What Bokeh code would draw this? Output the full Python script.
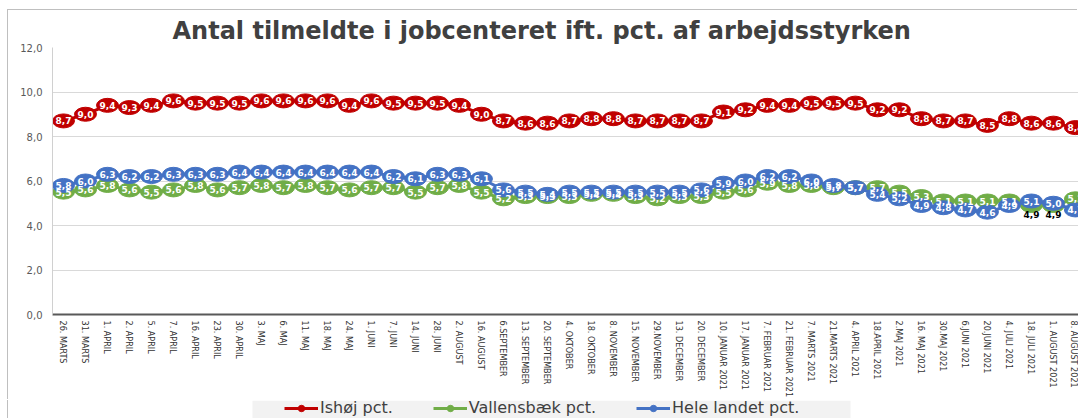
from bokeh.plotting import figure
from bokeh.layouts import column, row
from bokeh.models import (ColumnDataSource, Range1d, FixedTicker, Legend,
                          LegendItem, InlineStyleSheet, BoxAnnotation, Spacer)
from bokeh.core.properties import value
from bokeh.embed import file_html
from bokeh.resources import INLINE

title_text = "Antal tilmeldte i jobcenteret ift. pct. af arbejdsstyrken"

dates = ["26. MARTS", "31. MARTS", "1. APRIL", "2. APRIL", "5. APRIL", "7. APRIL",
         "16. APRIL", "23. APRIL", "30. APRIL", "3. MAJ", "6. MAJ", "11. MAJ",
         "18. MAJ", "24. MAJ", "1. JUNI", "7. JUNI", "14. JUNI", "28. JUNI",
         "2. AUGUST", "16. AUGUST", "6.SEPTEMBER", "13. SEPTEMBER", "20. SEPTEMBER",
         "4. OKTOBER", "18. OKTOBER", "8. NOVEMBER", "15. NOVEMBER", "29.NOVEMBER",
         "13. DECEMBER", "20. DECEMBER", "10. JANUAR 2021", "17. JANUAR 2021",
         "7. FEBRUAR 2021", "21. FEBRUAR 2021", "7. MARTS 2021", "21.MARTS 2021",
         "4. APRIL 2021", "18.APRIL 2021", "2.MAJ 2021", "16. MAJ 2021",
         "30.MAJ 2021", "6.JUNI 2021", "20.JUNI 2021", "4. JULI 2021",
         "18. JULI 2021", "1. AUGUST 2021", "8. AUGUST 2021"]

ishoj = [8.7, 9.0, 9.4, 9.3, 9.4, 9.6, 9.5, 9.5, 9.5, 9.6,
         9.6, 9.6, 9.6, 9.4, 9.6, 9.5, 9.5, 9.5, 9.4, 9.0,
         8.7, 8.6, 8.6, 8.7, 8.8, 8.8, 8.7, 8.7, 8.7, 8.7,
         9.1, 9.2, 9.4, 9.4, 9.5, 9.5, 9.5, 9.2, 9.2, 8.8,
         8.7, 8.7, 8.5, 8.8, 8.6, 8.6, 8.4]
vallensbaek = [5.5, 5.6, 5.8, 5.6, 5.5, 5.6, 5.8, 5.6, 5.7, 5.8,
               5.7, 5.8, 5.7, 5.6, 5.7, 5.7, 5.5, 5.7, 5.8, 5.5,
               5.2, 5.3, 5.3, 5.3, 5.4, 5.4, 5.3, 5.2, 5.3, 5.3,
               5.5, 5.6, 5.9, 5.8, 5.8, 5.7, 5.7, 5.7, 5.5, 5.3,
               5.1, 5.1, 5.1, 5.1, 4.9, 4.9, 5.2]
hele_landet = [5.8, 6.0, 6.3, 6.2, 6.2, 6.3, 6.3, 6.3, 6.4, 6.4,
               6.4, 6.4, 6.4, 6.4, 6.4, 6.2, 6.1, 6.3, 6.3, 6.1,
               5.6, 5.5, 5.4, 5.5, 5.5, 5.5, 5.5, 5.5, 5.5, 5.6,
               5.9, 6.0, 6.2, 6.2, 6.0, 5.8, 5.7, 5.4, 5.2, 4.9,
               4.8, 4.7, 4.6, 4.9, 5.1, 5.0, 4.7]

series_names = ["Ishøj pct.", "Vallensbæk pct.", "Hele landet pct."]
series_colors = ["#C00000", "#70AD47", "#4472C4"]

y_ticks = [0, 2, 4, 6, 8, 10, 12]
y_tick_labels = ["0,0", "2,0", "4,0", "6,0", "8,0", "10,0", "12,0"]

x = list(range(1, len(dates) + 1))

p = figure(width=1070, height=390, output_backend="svg", toolbar_location=None,
           x_range=Range1d(0.5, 47.14), y_range=Range1d(0, 12),
           min_border_left=44, min_border_right=0, min_border_top=37,
           min_border_bottom=84)
p.outline_line_color = None
p.background_fill_color = "white"
p.border_fill_color = "white"
p.stylesheets = [InlineStyleSheet(css=":host { box-shadow: -1px -1px 0 0 #BFBFBF; }")]

# title
p.title.text = title_text
p.title.align = "left"
p.title.offset = 120
p.title.standoff = 4
p.title.vertical_align = "middle"
p.title.text_font = "DejaVu Sans"
p.title.text_font_size = "24px"
p.title.text_font_style = "bold"
p.title.text_color = "#404040"

# axes
p.xaxis.ticker = FixedTicker(ticks=x)
p.xaxis.major_label_overrides = {i: d for i, d in zip(x, dates)}
p.xaxis.major_label_orientation = "vertical"
p.xaxis.major_label_text_font = "Liberation Sans Narrow, DejaVu Sans Condensed, sans-serif"
p.xaxis.major_label_text_font_size = "9px"
p.xaxis.major_label_text_color = "#333333"
p.xaxis.major_tick_out = 0
p.xaxis.major_tick_in = 0
p.xaxis.minor_tick_out = 0
p.xaxis.minor_tick_in = 0
p.xaxis.major_label_standoff = 6
p.xaxis.axis_line_color = "#595959"
p.xaxis.axis_line_width = 2

p.yaxis.ticker = FixedTicker(ticks=y_ticks)
p.yaxis.major_label_overrides = {t: l for t, l in zip(y_ticks, y_tick_labels)}
p.yaxis.major_label_text_font = "DejaVu Sans"
p.yaxis.major_label_text_font_size = "10px"
p.yaxis.major_label_text_color = "#595959"
p.yaxis.major_tick_out = 0
p.yaxis.major_tick_in = 0
p.yaxis.minor_tick_out = 0
p.yaxis.minor_tick_in = 0
p.yaxis.major_label_standoff = 10
p.yaxis.axis_line_color = "#D0D0D0"

p.xgrid.grid_line_color = None
p.ygrid.grid_line_color = "#D9D9D9"
p.ygrid.grid_line_width = 1

def fmt(v):
    return f"{v:.1f}".replace(".", ",")

all_series = [ishoj, vallensbaek, hele_landet]
sources = []
for name, color, vals in zip(series_names, series_colors, all_series):
    src = ColumnDataSource(dict(x=x, y=vals, label=[fmt(v) for v in vals]))
    sources.append(src)
    p.line("x", "y", source=src, line_color=color, line_width=3)
    p.ellipse("x", "y", source=src, width=22, height=14, width_units="screen",
              height_units="screen", fill_color=color, line_color=color)

# data labels drawn on top of all markers
below_labels = {1: {44, 45}}  # Vallensbæk labels placed below where hidden
for si, src in enumerate(sources):
    n = len(src.data["x"])
    colors = []
    offs = []
    for i in range(n):
        if i in below_labels.get(si, set()):
            colors.append("#000000")
            offs.append(9)
        else:
            colors.append("#FFFFFF")
            offs.append(0)
    src.data["tcolor"] = colors
    src.data["yoff"] = offs
    p.text("x", "y", text="label", source=src, text_color="tcolor",
           y_offset="yoff", text_align="center", text_baseline="middle",
           text_font=value("DejaVu Sans"), text_font_style="bold",
           text_font_size="9px")

# legend strip below the chart (its frame is aligned with the chart frame)
lg = figure(width=1070, height=18, output_backend="svg", toolbar_location=None,
            x_range=Range1d(0, 1026), y_range=Range1d(0, 18),
            x_axis_type=None, y_axis_type=None, min_border=0)
lg.outline_line_color = None
lg.xgrid.grid_line_color = None
lg.ygrid.grid_line_color = None
lg.background_fill_color = "white"
lg.border_fill_color = "white"
lg.stylesheets = [InlineStyleSheet(css=":host { box-shadow: -1px 0 0 0 #BFBFBF; }")]
lg.add_layout(BoxAnnotation(left=200, right=798, bottom=-10, top=18,
                            fill_color="#F2F2F2", fill_alpha=1.0, line_alpha=0))
items = []
for name, color in zip(series_names, series_colors):
    proxy = ColumnDataSource(dict(x=[-100, -90], y=[-100, -100]))
    lr = lg.line("x", "y", source=proxy, line_color=color, line_width=3)
    dot = lg.scatter("x", "y", source=proxy, marker="circle", size=9,
                     fill_color=color, line_color=color)
    items.append(LegendItem(label=name, renderers=[lr, dot]))
legend = Legend(items=items, location=(229, -2), orientation="horizontal",
                label_text_font="DejaVu Sans", label_text_font_size="16px",
                label_text_color="#404040", glyph_width=34, glyph_height=16,
                label_height=16, label_standoff=2, spacing=40, padding=3, margin=0,
                background_fill_alpha=0, border_line_alpha=0)
lg.add_layout(legend, "center")

layout = row(Spacer(width=8, height=418),
             column(Spacer(width=1070, height=10), p, lg, spacing=0),
             spacing=0)
open("out.html", "w").write(file_html(layout, INLINE))
